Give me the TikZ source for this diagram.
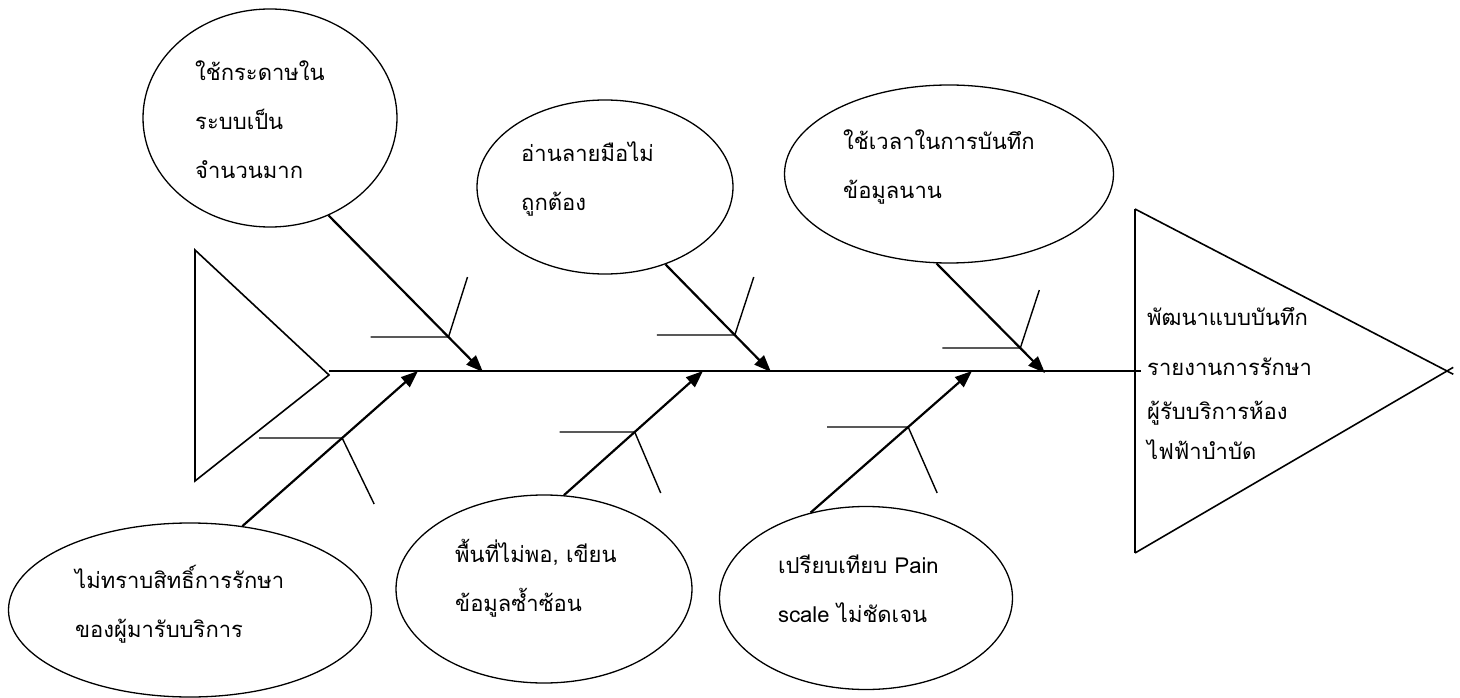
\documentclass[tikz,border=0pt]{standalone}
\usepackage{fontspec}
\newfontfamily\thaifont[Script=Thai]{Loma}
\usetikzlibrary{shapes.geometric,arrows.meta,calc}
\begin{document}
\begin{tikzpicture}[x=1pt,y=-1pt,
  ell/.style={draw, ellipse, line width=1.3pt, inner sep=0pt},
  txt/.style={anchor=west, align=left, inner sep=0pt, font=\fontsize{22}{49}\thaifont},
  bone/.style={line width=2.2pt, -{Triangle[length=17pt,width=13pt]}},
  rib/.style={line width=1.4pt},
  tri/.style={line width=1.6pt, line join=miter},
  spine/.style={line width=2.2pt}
]
\useasboundingbox (0,0) rectangle (1460,698);

% ellipses (causes)
\node[ell, minimum width=254pt, minimum height=218pt] (e1) at (270,118) {};
\node[ell, minimum width=256pt, minimum height=174pt] (e2) at (605,187) {};
\node[ell, minimum width=329pt, minimum height=178pt] (e3) at (949,174) {};
\node[ell, minimum width=363pt, minimum height=174pt] (e4) at (190,610) {};
\node[ell, minimum width=296pt, minimum height=188pt] (e5) at (544,589) {};
\node[ell, minimum width=293pt, minimum height=183pt] (e6) at (866,598) {};

% texts
\node[txt] (x1) at (195,120) {ใช้กระดาษใน\\ระบบเป็น\\จำนวนมาก};
\node[txt] (x2) at (521,179) {อ่านลายมือไม่\\ถูกต้อง};
\node[txt] (x3) at (843,167) {ใช้เวลาในการบันทึก\\ข้อมูลนาน};
\node[txt] (x4) at (75,604) {ไม่ทราบสิทธิ์การรักษา\\ของผู้มารับบริการ};
\node[txt] (x5) at (455,578) {พื้นที่ไม่พอ, เขียน\\ข้อมูลซ้ำซ้อน};
\node[txt] (x6) at (778,589) {เปรียบเทียบ Pain\\scale ไม่ชัดเจน};
\node[txt, font=\fontsize{22}{44}\thaifont] (goal) at (1147,384) {พัฒนาแบบบันทึก\\[6pt]รายงานการรักษา\\ผู้รับบริการห้อง\\[-4pt]ไฟฟ้าบำบัด};

% head and tail triangles
\coordinate (lA) at (195,250);
\coordinate (lB) at (195,481);
\coordinate (lT) at (329,375);
\draw[tri] (lA) -- (lT) -- (lB) -- cycle;
\coordinate (rA) at (1135,209);
\coordinate (rB) at (1135,553);
\coordinate (rT) at (1447,371);
\draw[tri] (rA) -- (rB);
\draw[tri] (rA) -- ($(rA)!1.02!(rT)$);
\draw[tri] (rB) -- ($(rB)!1.02!(rT)$);

% spine
\coordinate (sp0) at (329,371);
\coordinate (sp1) at (1141,371);
\draw[spine] (sp0) -- (sp1);

% bone start points and tips
\coordinate (s1) at (e1.-59);
\coordinate (s2) at (e2.-52);
\coordinate (s3) at (e3.-98);
\coordinate (s4) at (e4.58);
\coordinate (s5) at (e5.78);
\coordinate (s6) at (e6.123);
\coordinate (t1) at (483,372);
\coordinate (t2) at (771,372);
\coordinate (t3) at (1045,373);
\coordinate (t4) at (418,371);
\coordinate (t5) at (703,371);
\coordinate (t6) at (972,371);

\draw[bone] (s1) -- (t1);
\draw[bone] (s2) -- (t2);
\draw[bone] (s3) -- (t3);
\draw[bone] (s4) -- (t4);
\draw[bone] (s5) -- (t5);
\draw[bone] (s6) -- (t6);

% sub-branches
\coordinate (j1) at (intersection of s1--t1 and 0,337--10,337);
\coordinate (j2) at (intersection of s2--t2 and 0,335--10,335);
\coordinate (j3) at (intersection of s3--t3 and 0,348--10,348);
\coordinate (j4) at (intersection of s4--t4 and 0,438--10,438);
\coordinate (j5) at (intersection of s5--t5 and 0,432--10,432);
\coordinate (j6) at (intersection of s6--t6 and 0,427--10,427);
\draw[rib] (j1) ++(-78,0) -- (j1) -- ++(19,-60);
\draw[rib] (j2) ++(-78,0) -- (j2) -- ++(19,-58);
\draw[rib] (j3) ++(-78,0) -- (j3) -- ++(19,-58);
\draw[rib] (j4) ++(-83,0) -- (j4) -- ++(32,66);
\draw[rib] (j5) ++(-75,0) -- (j5) -- ++(26,61);
\draw[rib] (j6) ++(-81,0) -- (j6) -- ++(29,66);
\end{tikzpicture}
\end{document}
